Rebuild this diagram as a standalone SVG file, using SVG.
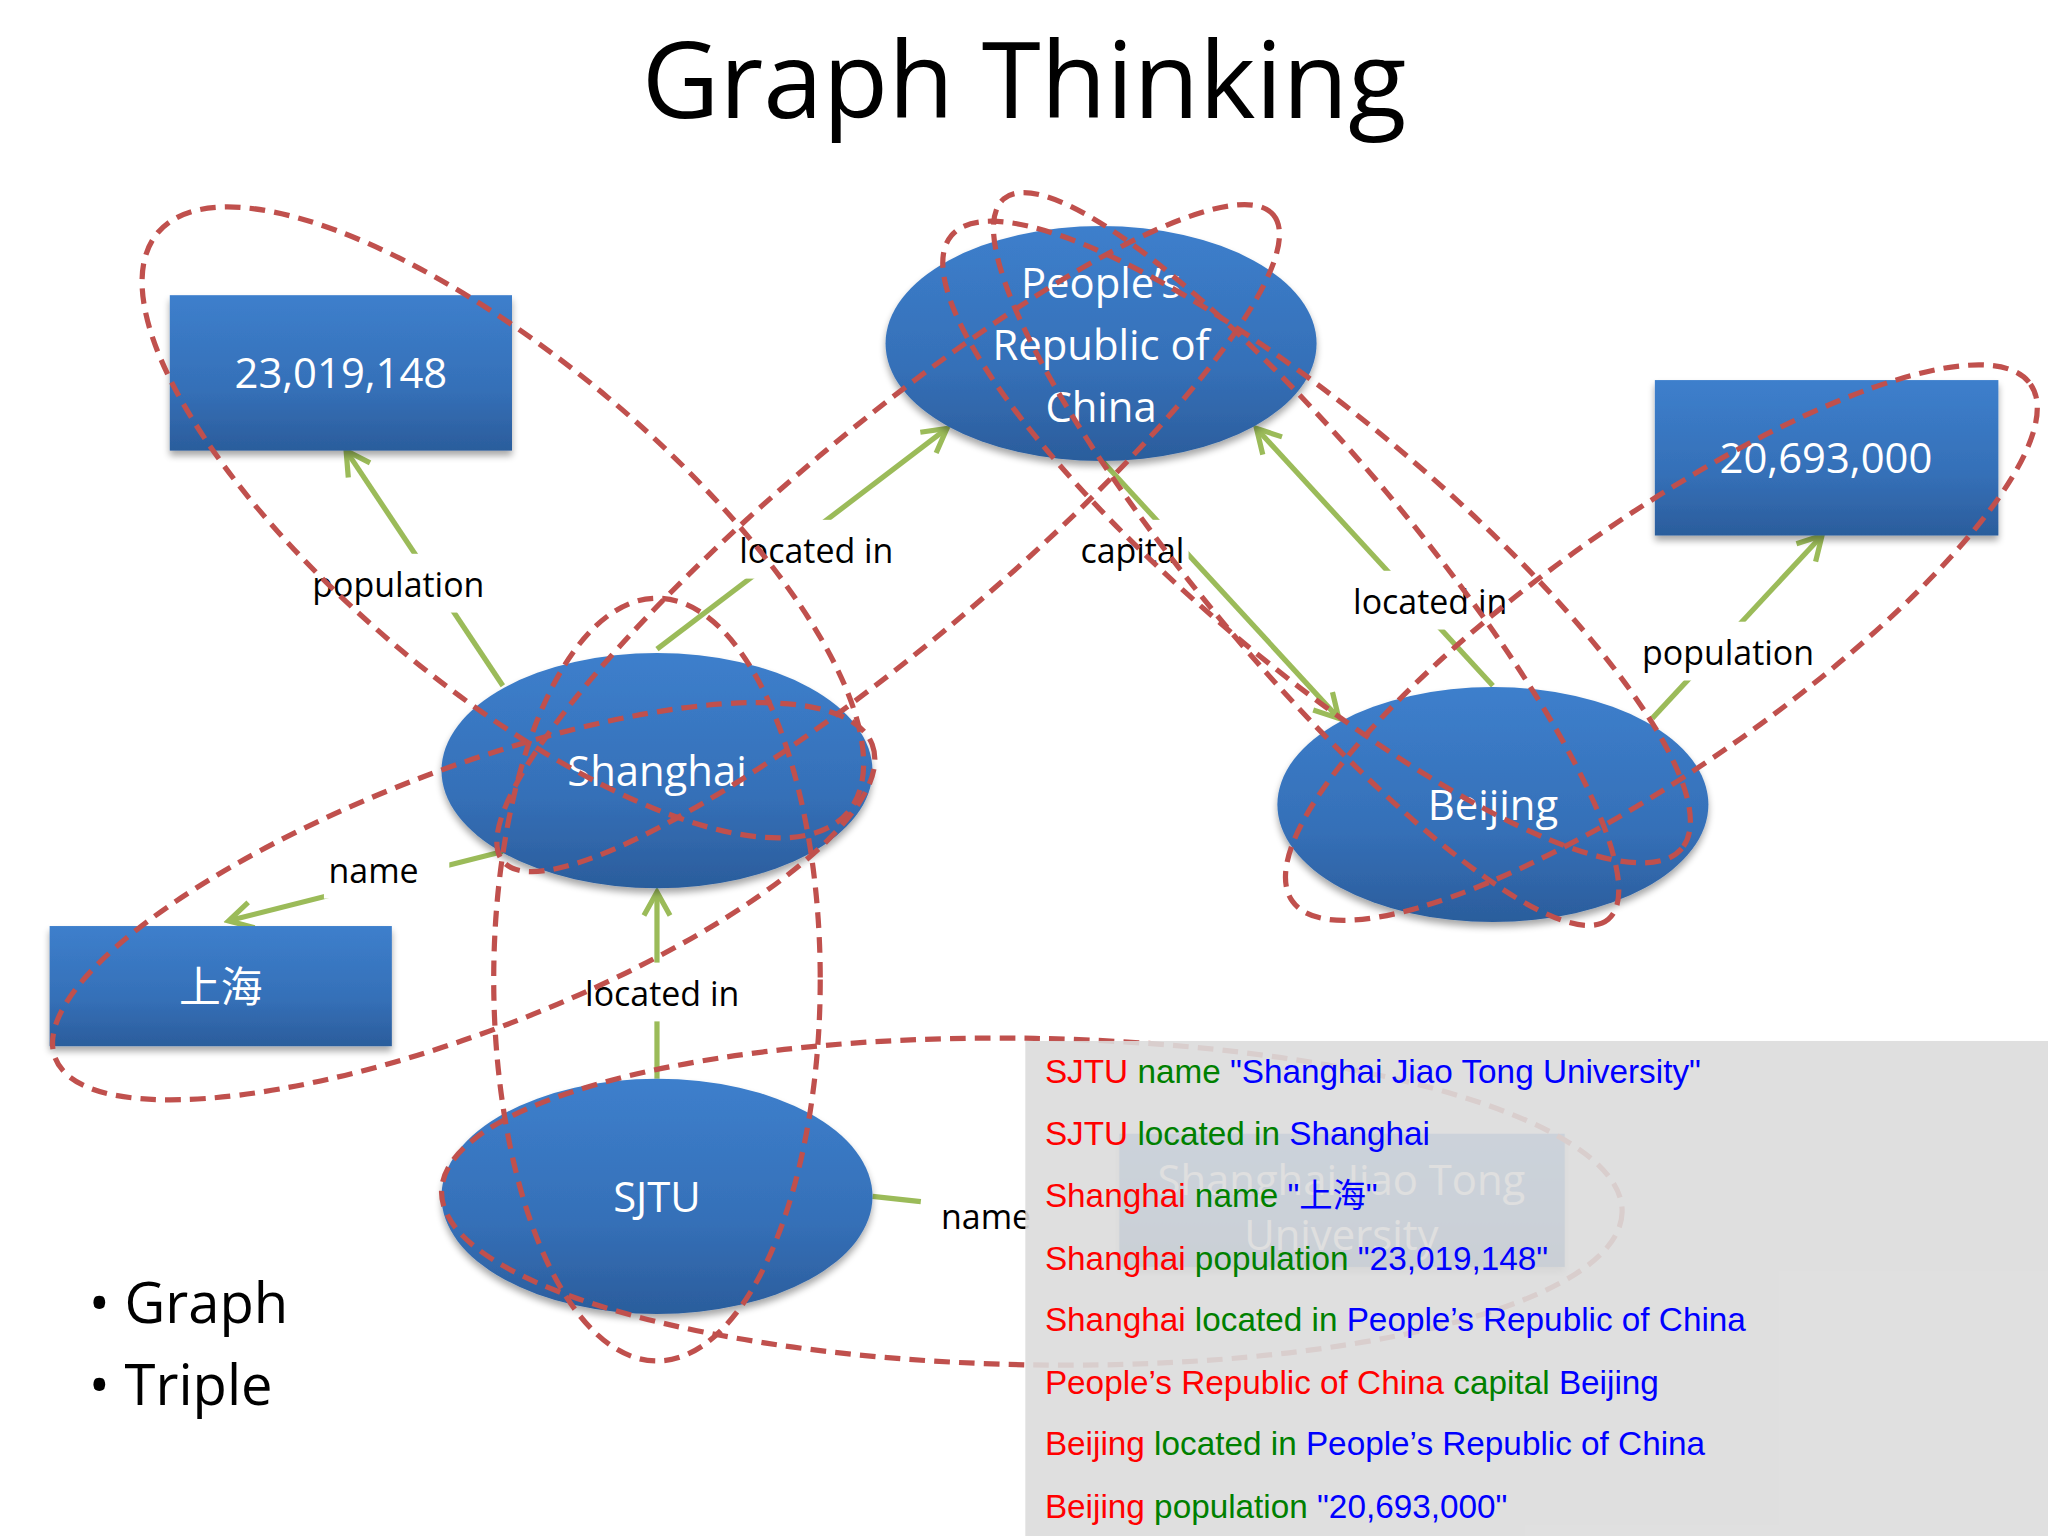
<svg xmlns="http://www.w3.org/2000/svg" width="2048" height="1536" viewBox="0 0 2048 1536">
<defs>
<linearGradient id="bg" x1="0" y1="0" x2="0" y2="1"><stop offset="0" stop-color="#3d7fcc"/><stop offset="0.6" stop-color="#3570b8"/><stop offset="1" stop-color="#2b5d9c"/></linearGradient>
<marker id="ah" viewBox="0 0 12 12" refX="10" refY="6" markerWidth="6" markerHeight="6" orient="auto" markerUnits="strokeWidth"><path d="M1,1 L10,6 L1,11" fill="none" stroke="#9bbb59" stroke-width="2"/></marker>
<filter id="sh" x="-20%" y="-20%" width="140%" height="140%"><feGaussianBlur in="SourceAlpha" stdDeviation="3"/><feOffset dx="0" dy="4"/><feComponentTransfer><feFuncA type="linear" slope="0.35"/></feComponentTransfer><feMerge><feMergeNode/><feMergeNode in="SourceGraphic"/></feMerge></filter>
</defs>
<style>
.node{fill:url(#bg);filter:url(#sh)}
.nt{font-family:"Open Sans","Noto Sans","Noto Sans CJK SC",sans-serif;font-size:32px;fill:#fff;text-anchor:middle}
.edge{stroke:#9bbb59;stroke-width:4;fill:none;marker-end:url(#ah)}
.lbl{font-family:"Open Sans","Noto Sans",sans-serif;font-size:26px;fill:#000;text-anchor:middle}
.lb{fill:#fff}
.ring{fill:none;stroke:#c0504d;stroke-width:4;stroke-dasharray:12 7}
.tr{font-family:"Liberation Sans",Arial,"Noto Sans CJK SC",sans-serif;font-size:25.5px}
.s{fill:#ff0000}.p{fill:#008000}.o{fill:#0000ff}
</style>
<rect width="2048" height="1536" fill="#fff"/>
<g transform="scale(1.30612)">
<text x="784" y="90" font-family="Open Sans,Noto Sans,sans-serif" font-size="82" text-anchor="middle" fill="#000">Graph Thinking</text>

<g id="connectors">
<line class="edge" x1="385" y1="525" x2="265" y2="345"/>
<line class="edge" x1="503" y1="497" x2="725" y2="328"/>
<line class="edge" x1="843" y1="352" x2="1025" y2="550"/>
<line class="edge" x1="1143" y1="525" x2="962" y2="328"/>
<line class="edge" x1="1265" y1="550" x2="1395" y2="410"/>
<line class="edge" x1="385" y1="652" x2="175" y2="705"/>
<line class="edge" x1="503" y1="826" x2="503" y2="683"/>
<line x1="668" y1="916" x2="705" y2="920" stroke="#9bbb59" stroke-width="4"/>
<rect class="lb" x="238" y="424" width="134" height="45"/>
<rect class="lb" x="563" y="398" width="124" height="45"/>
<rect class="lb" x="826" y="398" width="84" height="45"/>
<rect class="lb" x="1035" y="437" width="122" height="45"/>
<rect class="lb" x="1256" y="476" width="136" height="45"/>
<rect class="lb" x="248" y="643" width="96" height="45"/>
<rect class="lb" x="445" y="737" width="124" height="45"/>
<text class="lbl" x="305" y="457">population</text>
<text class="lbl" x="625" y="431">located in</text>
<text class="lbl" x="867" y="431">capital</text>
<text class="lbl" x="1095" y="470">located in</text>
<text class="lbl" x="1323" y="509">population</text>
<text class="lbl" x="286" y="676">name</text>
<text class="lbl" x="507" y="770">located in</text>
<text class="lbl" x="755" y="941">name</text>
</g>

<g id="n-23019148"><rect class="node" x="130" y="226" width="262" height="119"/><text class="nt" x="261" y="297">23,019,148</text></g>
<g id="n-20693000"><rect class="node" x="1267" y="291" width="263" height="119"/><text class="nt" x="1398" y="362">20,693,000</text></g>
<g id="n-shanghai-zh"><rect class="node" x="38" y="709" width="262" height="92"/><text class="nt" x="169" y="767" font-size="38">上海</text></g>
<g id="n-prc"><ellipse class="node" cx="843" cy="263" rx="165" ry="90"/><text class="nt" x="843" y="228">People’s</text><text class="nt" x="843" y="276">Republic of</text><text class="nt" x="843" y="323">China</text></g>
<g id="n-shanghai"><ellipse class="node" cx="503" cy="590" rx="165" ry="90"/><text class="nt" x="503" y="602">Shanghai</text></g>
<g id="n-beijing"><ellipse class="node" cx="1143" cy="616" rx="165" ry="90"/><text class="nt" x="1143" y="628">Beijing</text></g>
<g id="n-sjtu"><ellipse class="node" cx="503" cy="916" rx="165" ry="90"/><text class="nt" x="503" y="928">SJTU</text></g>
<g id="n-sjtu-name"><rect class="node" x="857" y="868" width="341" height="102"/><text class="nt" x="1027" y="915">Shanghai Jiao Tong</text><text class="nt" x="1027" y="957">University</text></g>

<g id="triple-rings">
<ellipse class="ring" transform="translate(385,400) rotate(40)" rx="345" ry="125"/>
<ellipse class="ring" transform="translate(355,690) rotate(-21)" rx="335" ry="100"/>
<ellipse class="ring" transform="translate(680,412) rotate(-40)" rx="385" ry="82"/>
<ellipse class="ring" cx="503" cy="750" rx="125" ry="292"/>
<ellipse class="ring" transform="translate(790,920) rotate(1)" rx="452" ry="125"/>
<ellipse class="ring" transform="translate(1008,415) rotate(40)" rx="365" ry="95"/>
<ellipse class="ring" transform="translate(1000,428) rotate(50)" rx="360" ry="80"/>
<ellipse class="ring" transform="translate(1272,492) rotate(-35)" rx="345" ry="95"/>
</g>

<g id="triples">
<rect x="785" y="797" width="800" height="400" fill="#dcdcdc" fill-opacity="0.9"/>
<text class="tr" x="800" y="829"><tspan class="s">SJTU</tspan><tspan class="p"> name </tspan><tspan class="o">"Shanghai Jiao Tong University"</tspan></text>
<text class="tr" x="800" y="877"><tspan class="s">SJTU</tspan><tspan class="p"> located in </tspan><tspan class="o">Shanghai</tspan></text>
<text class="tr" x="800" y="924"><tspan class="s">Shanghai</tspan><tspan class="p"> name </tspan><tspan class="o">"上海"</tspan></text>
<text class="tr" x="800" y="972"><tspan class="s">Shanghai</tspan><tspan class="p"> population </tspan><tspan class="o">"23,019,148"</tspan></text>
<text class="tr" x="800" y="1019"><tspan class="s">Shanghai</tspan><tspan class="p"> located in </tspan><tspan class="o">People’s Republic of China</tspan></text>
<text class="tr" x="800" y="1067"><tspan class="s">People’s Republic of China</tspan><tspan class="p"> capital </tspan><tspan class="o">Beijing</tspan></text>
<text class="tr" x="800" y="1114"><tspan class="s">Beijing</tspan><tspan class="p"> located in </tspan><tspan class="o">People’s Republic of China</tspan></text>
<text class="tr" x="800" y="1162"><tspan class="s">Beijing</tspan><tspan class="p"> population </tspan><tspan class="o">"20,693,000"</tspan></text>
</g>

<g id="bullets" font-family="Open Sans,Noto Sans,sans-serif" font-size="43" fill="#000">
<text x="68" y="1013">• Graph</text>
<text x="68" y="1076">• Triple</text>
</g>
</g>
</svg>
